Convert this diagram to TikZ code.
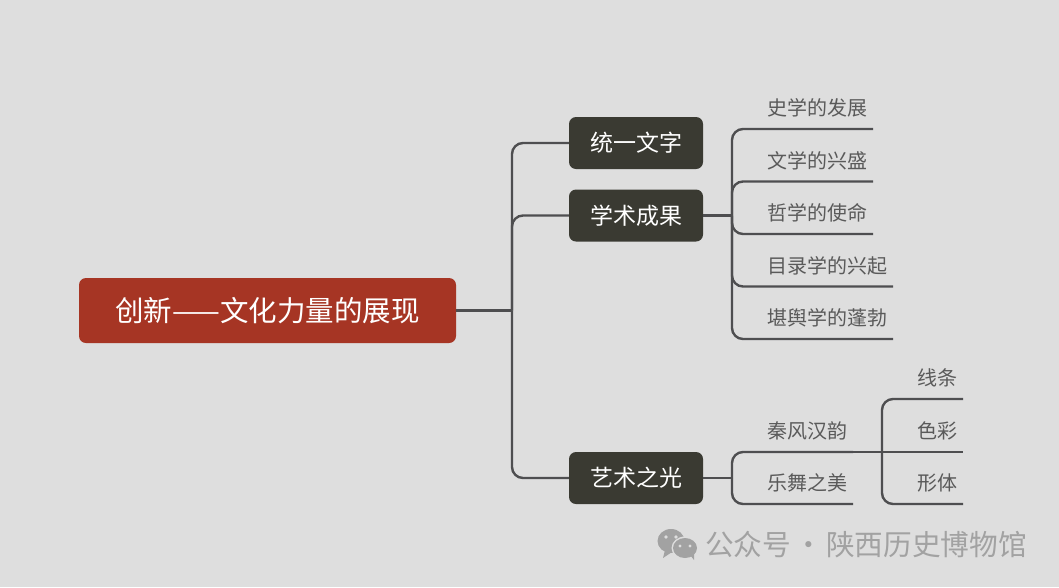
\documentclass[tikz,border=0pt]{standalone}
\usepackage{fontspec}
\setmainfont{Noto Sans CJK SC}
\definecolor{bgc}{HTML}{DEDEDE}
\definecolor{rootc}{HTML}{A63524}
\definecolor{childc}{HTML}{3A3A32}
\definecolor{linec}{HTML}{4E4E50}
\definecolor{leaftext}{HTML}{5A5A5A}
\definecolor{markc}{HTML}{A2A2A2}
\tikzset{
  rootbox/.style={draw=none,fill=rootc,rounded corners=7pt,minimum width=377pt,minimum height=65pt,inner sep=0pt,text=white,font=\fontsize{28.5pt}{30pt}\selectfont},
  childbox/.style={draw=none,fill=childc,rounded corners=7pt,minimum width=134pt,minimum height=52pt,inner sep=0pt,text=white,font=\fontsize{23pt}{25pt}\selectfont},
  leaf/.style={inner sep=0pt,text=leaftext,font=\fontsize{20pt}{23pt}\selectfont},
  conn/.style={draw=linec,line width=2.4pt,rounded corners=11pt}
}
\newcommand{\upbox}[1]{\raisebox{2.2pt}{#1}}
\begin{document}
\begin{tikzpicture}[x=1pt,y=-1pt]
\useasboundingbox (0,0) rectangle (1059,587);
\fill[bgc] (0,0) rectangle (1059,587);
% nodes
\node[rootbox] (root) at (267.5,310.5) {\raisebox{0.8pt}{创新——文化力量的展现}};
\node[childbox] (c1) at (636,143) {\upbox{统一文字}};
\node[childbox] (c2) at (636,215.5) {\upbox{学术成果}};
\node[childbox] (c3) at (636,478) {\upbox{艺术之光}};
\node[leaf] (a1) at (817.5,108) {史学的发展};
\node[leaf] (a2) at (817.5,160.5) {文学的兴盛};
\node[leaf] (a3) at (817.5,213) {哲学的使命};
\node[leaf] (a4) at (827.5,265.5) {目录学的兴起};
\node[leaf] (a5) at (827.5,318) {堪舆学的蓬勃};
\node[leaf] (b1) at (807.5,430.5) {秦风汉韵};
\node[leaf] (b2) at (807.5,482.5) {乐舞之美};
\node[leaf] (d1) at (937.5,377.5) {线条};
\node[leaf] (d2) at (937.5,430.5) {色彩};
\node[leaf] (d3) at (937.5,482.5) {形体};
% free ends
\coordinate (j0) at (512,310.5);
\coordinate (j2) at (732,215.5);
\coordinate (j3) at (732,478);
\coordinate (j4) at (882,452);
\coordinate (e1) at (873,129);
\coordinate (e2) at (873,181.5);
\coordinate (e3) at (873,234);
\coordinate (e4) at (893,286.5);
\coordinate (e5) at (893,339);
\coordinate (f1) at (853,452);
\coordinate (f2) at (853,504);
\coordinate (g1) at (963,399);
\coordinate (g2) at (963,452);
\coordinate (g3) at (963,504);
% connectors
\draw[conn] (root.east) -- (j0);
\draw[conn] (j0) |- (c1.west);
\draw[conn] (j0) |- (c2.west);
\draw[conn] (j0) |- (c3.west);
\draw[conn] (c2.east) -- (j2);
\foreach \e in {e1,e2,e3,e4,e5} \draw[conn] (j2) |- (\e);
\draw[conn] (c3.east) -- (j3);
\foreach \e in {f1,f2} \draw[conn] (j3) |- (\e);
\draw[conn] (f1) -- (g2);
\foreach \e in {g1,g3} \draw[conn] (j4) |- (\e);
% watermark icon
\fill[markc] (671,541) ellipse [x radius=13.5, y radius=12];
\fill[markc] (665,550) -- (663,558) -- (672,552) -- cycle;
\fill[bgc] (685,548) ellipse [x radius=13.5, y radius=11.5];
\fill[markc] (685,548) ellipse [x radius=12, y radius=10];
\fill[markc] (690,555) -- (694,560) -- (694,553) -- cycle;
\fill[bgc] (666,537) circle (1.9);
\fill[bgc] (676,537) circle (1.9);
\fill[bgc] (680,546) circle (1.6);
\fill[bgc] (690,546) circle (1.6);
\node[anchor=west,inner sep=0pt,text=markc,font=\fontsize{28.7pt}{32pt}\selectfont] (wm) at (705,544.5) {公众号\hspace{3pt}·\hspace{3pt}陕西历史博物馆};
\end{tikzpicture}
\end{document}
